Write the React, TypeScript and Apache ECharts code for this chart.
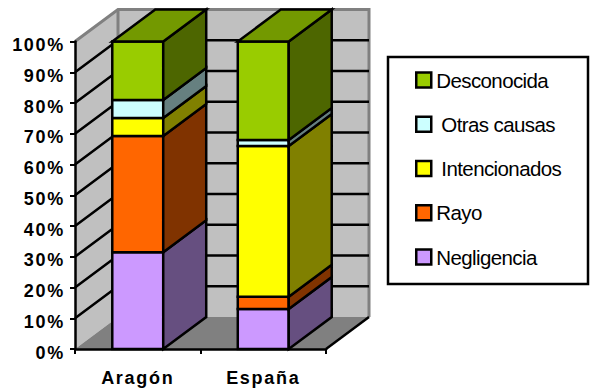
import React, { useEffect, useRef } from "react";
import * as echarts from "echarts";

const categories = ["Aragón", "España"];
const tickValues = [0, 10, 20, 30, 40, 50, 60, 70, 80, 90, 100];
const negligencia = [31.5, 13];
const rayo = [37.8, 4];
const intencionados = [5.8, 49];
const otrasCausas = [5.9, 2];
const desconocida = [19, 32];

const seriesNames = ["Negligencia", "Rayo", "Intencionados", "Otras causas", "Desconocida"];
const seriesValues = [negligencia, rayo, intencionados, otrasCausas, desconocida];
const frontColors = ["#CC99FF", "#FF6600", "#FFFF00", "#CCFFFF", "#99CC00"];
const sideColors = ["#664F80", "#803300", "#808000", "#668080", "#4D6600"];
const topColor = "#739900";
const legendOrder = ["Desconocida", "Otras causas", "Intencionados", "Rayo", "Negligencia"];
const legendIndented = ["Otras causas", "Intencionados"];

const DX = 43;
const DY = -32;
const BAR_RATIO = 0.406;
const LINE = 2.5;

export default function App() {
  const ref = useRef<HTMLDivElement>(null);
  useEffect(() => {
    const chart = echarts.init(ref.current!, undefined, { renderer: "svg" });

    const wallSeries = {
      type: "custom",
      silent: true,
      z: 1,
      data: [0],
      encode: { x: -1, y: -1 },
      renderItem: (params: any, api: any) => {
        const s = params.coordSys;
        const l = s.x, r = s.x + s.width, t = s.y, b = s.y + s.height;
        const gray = { stroke: "#808080", lineWidth: 3, fill: "none" };
        return {
          type: "group",
          children: [
            { type: "polygon", shape: { points: [[l, t], [l + DX, t + DY], [l + DX, b + DY], [l, b]] }, style: { fill: "#C0C0C0" } },
            { type: "polygon", shape: { points: [[l + DX, t + DY], [r + DX, t + DY], [r + DX, b + DY], [l + DX, b + DY]] }, style: { fill: "#C0C0C0" } },
            { type: "polygon", shape: { points: [[l, b], [l + DX, b + DY], [r + DX, b + DY], [r, b]] }, style: { fill: "#808080" } },
            { type: "polyline", shape: { points: [[l, t], [l + DX, t + DY], [r + DX, t + DY], [r + DX, b + DY]] }, style: gray },
            { type: "line", shape: { x1: l + DX, y1: t + DY, x2: l + DX, y2: b + DY }, style: gray },
            { type: "line", shape: { x1: r, y1: b, x2: r + DX, y2: b + DY }, style: { stroke: "#000", lineWidth: LINE } },
          ],
        };
      },
    };

    const gridSeries = {
      type: "custom",
      silent: true,
      z: 1,
      data: tickValues.filter((v) => v > 0 && v < 100).map((v) => [0, v]),
      encode: { x: 0, y: 1 },
      renderItem: (params: any, api: any) => {
        const s = params.coordSys;
        const y = api.coord([0, api.value(1)])[1];
        return {
          type: "polyline",
          shape: { points: [[s.x, y], [s.x + DX, y + DY], [s.x + s.width + DX, y + DY]] },
          style: { stroke: "#000", lineWidth: LINE, fill: "none" },
        };
      },
    };

    const barSeries = seriesNames.map((name, si) => {
      const data = categories.map((_, ci) => {
        let start = 0;
        for (let k = 0; k < si; k++) start += seriesValues[k][ci];
        return [ci, start, start + seriesValues[si][ci]];
      });
      return {
        type: "custom",
        name,
        z: 2,
        data,
        encode: { x: 0, y: [1, 2] },
        itemStyle: { color: frontColors[si], borderColor: "#000", borderWidth: 2 },
        renderItem: (params: any, api: any) => {
          const c = api.value(0);
          const cx = api.coord([c, 0])[0];
          const w = api.size([1, 0])[0] * BAR_RATIO;
          const y0 = api.coord([c, api.value(1)])[1];
          const y1 = api.coord([c, api.value(2)])[1];
          const l = cx - w / 2, r = cx + w / 2;
          const edge = { stroke: "#000", lineWidth: LINE, lineJoin: "miter" };
          const children: any[] = [
            { type: "polygon", shape: { points: [[l, y0], [r, y0], [r, y1], [l, y1]] }, style: { fill: frontColors[si], ...edge } },
            { type: "polygon", shape: { points: [[r, y0], [r + DX, y0 + DY], [r + DX, y1 + DY], [r, y1]] }, style: { fill: sideColors[si], ...edge } },
          ];
          if (si === seriesNames.length - 1) {
            children.push({ type: "polygon", shape: { points: [[l, y1], [r, y1], [r + DX, y1 + DY], [l + DX, y1 + DY]] }, style: { fill: topColor, ...edge } });
          }
          return { type: "group", children };
        },
      };
    });

    const axisFont = { fontFamily: "'Liberation Sans', Arial, sans-serif", fontWeight: "bold" as const, fontSize: 18, color: "#000" };

    chart.setOption({
      animation: false,
      backgroundColor: "#fff",
      grid: { left: 75, top: 41.5, width: 251, height: 307.5 },
      xAxis: {
        type: "category",
        data: categories,
        z: 5,
        axisLine: { lineStyle: { color: "#000", width: LINE } },
        axisTick: { show: true, length: 5, lineStyle: { color: "#000", width: 2 } },
        axisLabel: { ...axisFont, margin: 20 },
        splitLine: { show: false },
      },
      yAxis: {
        type: "value",
        min: 0,
        max: 100,
        interval: 10,
        z: 5,
        axisLine: { show: true, lineStyle: { color: "#000", width: LINE } },
        axisTick: { show: true, length: 5, lineStyle: { color: "#000", width: 2 } },
        axisLabel: { ...axisFont, margin: 10, verticalAlign: "top", lineHeight: 7, formatter: "{value}%" },
        splitLine: { show: false },
      },
      legend: {
        orient: "vertical",
        left: 415,
        top: 65.5,
        padding: 0,
        itemWidth: 15,
        itemHeight: 15,
        itemGap: 15.25,
        icon: "rect",
        data: legendOrder.map((name) => ({ name, itemStyle: { borderColor: "#000", borderWidth: 2.5 } })),
        formatter: (n: string) => (legendIndented.includes(n) ? " " + n : n),
        textStyle: { fontFamily: "'Liberation Sans', sans-serif", fontSize: 20.5, color: "#000", lineHeight: 29 },
      },
      graphic: [
        { type: "rect", z: 0, shape: { x: 388, y: 57, width: 200, height: 227 }, style: { fill: "#fff", stroke: "#000", lineWidth: 2.5 } },
      ],
      series: [wallSeries, gridSeries, ...barSeries],
    });
    return () => chart.dispose();
  }, []);
  return (
    <>
      <style>{`text[style*="bold"]{letter-spacing:1.7px} text[style*="20.5px"]{letter-spacing:-0.6px}`}</style>
      <div ref={ref} style={{ position: "fixed", left: 0, top: 0, width: 590, height: 391 }} />
    </>
  );
}
